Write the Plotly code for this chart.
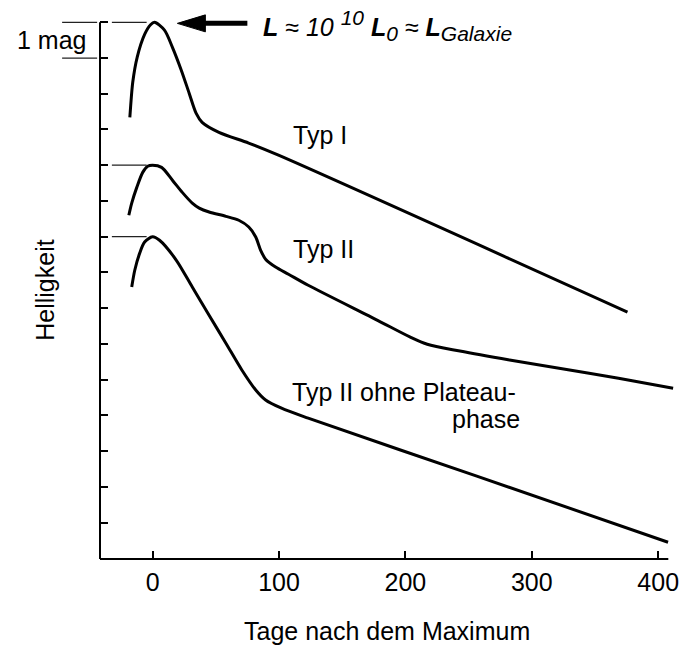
import plotly.graph_objects as go

# ---- data (days after maximum, magnitudes below peak of Typ I) ----
typ1_days = [-18.0, -17.3, -15.7, -12.2, -6.3, -1.6, 1.5, 9.4, 15.7, 22.7, 29.0, 34.5, 39.2, 52.5, 76.0, 99.6, 375.7]
typ1_mag = [2.66, 2.32, 1.68, 0.98, 0.34, 0.07, 0.0, 0.22, 0.70, 1.34, 1.99, 2.55, 2.80, 3.08, 3.38, 3.72, 8.11]

typ2_days = [-18.8, -16.5, -12.5, -7.8, -3.9, 0.0, 7.1, 15.7, 23.5, 31.4, 36.9, 44.7, 58.0, 68.2, 76.1, 81.6,
             85.5, 89.4, 97.3, 107.5, 123.1, 178.0, 203.9, 217.3, 243.1, 282.4, 321.6, 368.6, 411.8]
typ2_mag = [5.40, 5.06, 4.62, 4.20, 4.03, 4.0, 4.06, 4.42, 4.76, 5.06, 5.20, 5.31, 5.43, 5.54, 5.73, 6.01,
            6.38, 6.63, 6.85, 7.05, 7.36, 8.34, 8.81, 9.01, 9.20, 9.45, 9.68, 9.96, 10.24]

typ2np_days = [-16.5, -14.1, -10.2, -6.3, 0.0, 5.5, 18.8, 31.4, 44.7, 58.0, 70.6, 81.6, 89.4, 102.0, 123.1, 256.5, 407.8]
typ2np_mag = [7.41, 6.94, 6.46, 6.15, 6.0, 6.10, 6.66, 7.41, 8.20, 8.98, 9.73, 10.29, 10.57, 10.80, 11.08, 12.70, 14.55]

peak_mags = [0, 4, 6]
x_ticks = [0, 100, 200, 300, 400]
y_ticks = list(range(0, 15))

X_MIN, X_MAX, X_AXIS_END = -41.6, 412.5, 408
Y_BOTTOM, Y_TOP = 15.02, -0.4

FONT = "Liberation Sans"
fig = go.Figure()
for xs, ys in [(typ1_days, typ1_mag), (typ2_days, typ2_mag), (typ2np_days, typ2np_mag)]:
    fig.add_trace(go.Scatter(x=xs, y=ys, mode="lines",
                             line=dict(color="black", width=3, shape="spline", smoothing=0.8),
                             hoverinfo="skip", showlegend=False))

def mag_to_paper(m):
    return (Y_BOTTOM - m) / (Y_BOTTOM - Y_TOP)

shapes = []
# axes lines
shapes.append(dict(type="line", xref="paper", yref="paper", x0=0, x1=0, y0=0, y1=mag_to_paper(0),
                   line=dict(color="black", width=2)))
shapes.append(dict(type="line", xref="x", yref="paper", x0=X_MIN, x1=X_AXIS_END, y0=0, y1=0,
                   line=dict(color="black", width=2)))
# peak reference dashes
for m in peak_mags:
    shapes.append(dict(type="line", xref="x", yref="y", x0=-32.2, x1=-4.7, y0=m, y1=m,
                       line=dict(color="#222", width=1.2)))
# 1 mag bracket
for m in [0, 1]:
    shapes.append(dict(type="line", xref="paper", yref="paper", x0=-0.066, x1=-0.005,
                       y0=mag_to_paper(m), y1=mag_to_paper(m), line=dict(color="#222", width=1.2)))
# arrow
shapes.append(dict(type="path", xref="x", yref="y", xsizemode="pixel", ysizemode="pixel",
                   xanchor=19.6, yanchor=0.03, path="M0,0 L28,8.5 L28,-8.5 Z",
                   fillcolor="black", line=dict(color="black", width=1)))
shapes.append(dict(type="path", xref="x", yref="y", xsizemode="pixel", ysizemode="pixel",
                   xanchor=19.6, yanchor=0.03, path="M24,0 L70,0",
                   line=dict(color="black", width=5)))

ann = []
lab = dict(family=FONT, size=25, color="black")
ann.append(dict(x=109.8, y=3.16, xref="x", yref="y", text="Typ I", showarrow=False,
                xanchor="left", yanchor="middle", font=lab))
ann.append(dict(x=109.8, y=6.35, xref="x", yref="y", text="Typ II", showarrow=False,
                xanchor="left", yanchor="middle", font=lab))
ann.append(dict(x=109.0, y=10.35, xref="x", yref="y", text="Typ II ohne Plateau-", showarrow=False,
                xanchor="left", yanchor="middle", font=lab))
ann.append(dict(x=292.0, y=11.1, xref="x", yref="y", text="phase", showarrow=False,
                xanchor="right", yanchor="middle", font=lab))
ann.append(dict(x=-0.021, y=mag_to_paper(0.5), xref="paper", yref="paper", text="1 mag", showarrow=False,
                xanchor="right", yanchor="middle", font=lab))
small = '<span style="font-size:21px">'
ann.append(dict(x=85.5, y=0.08, xref="x", yref="y",
                text=("<b><i>L</i></b> ≈ <i>10 </i><sup>" + small + "<i>10</i></span></sup> "
                      "<b><i>L</i></b><sub>" + small + "<i>0</i></span></sub> ≈ "
                      "<b><i>L</i></b><sub>" + small + "<i>Galaxie</i></span></sub>"),
                showarrow=False, xanchor="left", yanchor="middle",
                font=dict(family=FONT, size=25, color="black")))
ann.append(dict(x=0.5, y=-0.13, xref="paper", yref="paper", text="Tage nach dem Maximum", showarrow=False,
                xanchor="center", yanchor="middle", font=lab))
ann.append(dict(x=-0.095, y=mag_to_paper(7.5), xref="paper", yref="paper", text="Helligkeit", showarrow=False,
                textangle=-90, xanchor="center", yanchor="middle", font=lab))

fig.update_layout(
    width=686, height=649, margin=dict(l=100, r=7, t=8, b=90),
    paper_bgcolor="white", plot_bgcolor="white",
    shapes=shapes, annotations=ann,
    xaxis=dict(range=[X_MIN, X_MAX], tickvals=x_ticks, ticks="inside", ticklen=8, tickwidth=2,
               tickcolor="black", showgrid=False, zeroline=False, showline=False,
               ticklabelstandoff=6,
               tickfont=dict(family=FONT, size=25, color="black")),
    yaxis=dict(range=[Y_BOTTOM, Y_TOP], tickvals=y_ticks, ticks="inside", ticklen=8, tickwidth=2,
               tickcolor="black", showgrid=False, zeroline=False, showline=False, showticklabels=False),
)
fig.write_html("out.html")
